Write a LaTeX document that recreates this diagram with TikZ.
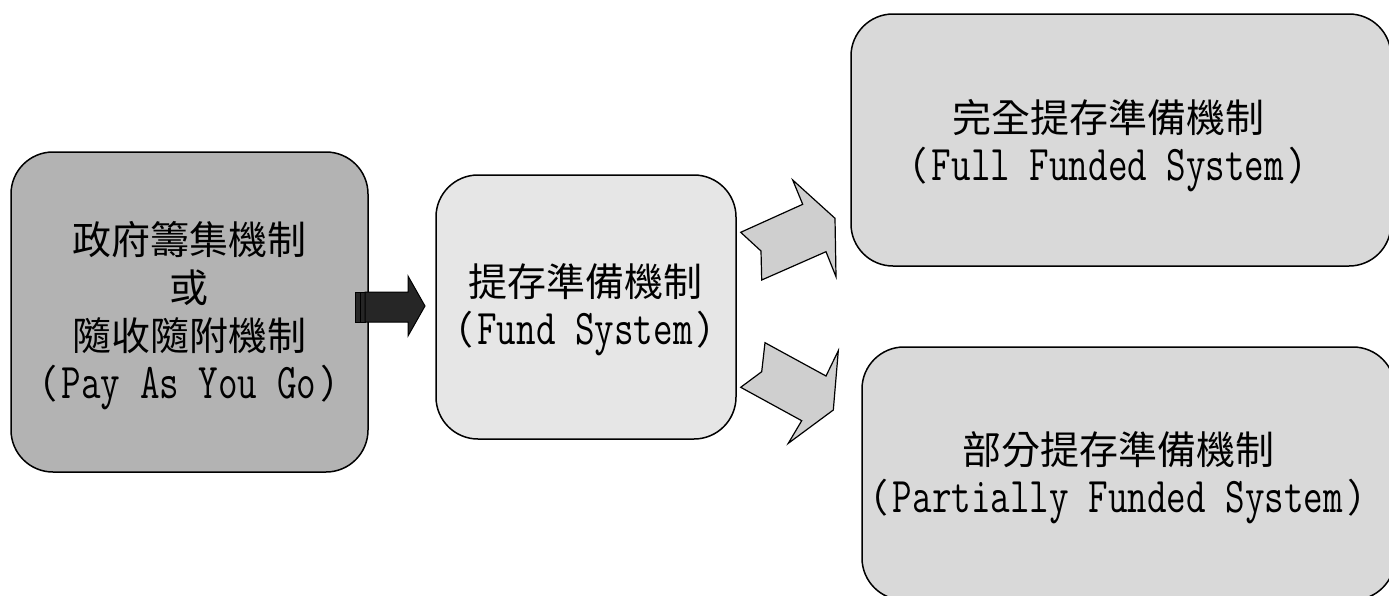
\documentclass[tikz,border=0pt]{standalone}
\usepackage{fontspec}
\setmainfont{Noto Sans CJK TC}
\newfontfamily\lat[FakeStretch=0.76]{Latin Modern Mono}
\newcommand\pl[1]{（\hspace{4pt}{\fontsize{50}{48}\lat #1}\hspace{4pt}）}
\definecolor{boxA}{HTML}{B3B3B3}
\definecolor{boxB}{HTML}{E6E6E6}
\definecolor{boxC}{HTML}{D9D9D9}
\definecolor{arrG}{HTML}{CFCFCF}
\definecolor{arrD}{HTML}{262626}
\tikzset{
  box/.style={draw=black, line width=1.5pt, rounded corners=42pt, inner sep=0pt},
  lbl/.style={align=center, inner sep=0pt, font=\fontsize{39}{48}\selectfont},
  garrow/.style={draw=black, line width=1.2pt, fill=arrG, line join=miter},
  darrow/.style={draw=black, line width=1pt, fill=arrD}
}
\begin{document}
\begin{tikzpicture}[x=1pt,y=-1pt]
\useasboundingbox (0,0) rectangle (1389,595);
\clip (0,0) rectangle (1389,595);
% boxes
\node[box, fill=boxA, minimum width=357pt, minimum height=320pt] (pay) at (189.5,312) {};
\node[box, fill=boxB, minimum width=300pt, minimum height=264pt] (fund) at (586,307) {};
\node[box, fill=boxC, minimum width=540pt, minimum height=252pt] (full) at (1121,140) {};
\node[box, fill=boxC, minimum width=533pt, minimum height=253pt] (part) at (1128.5,473.5) {};
% labels
\node[lbl] (payT) at (189,316) {政府籌集機制\\或\\隨收隨附機制\\\pl{Pay As You Go}};
\node[lbl] (fundT) at (585,310) {提存準備機制\\\pl{Fund System}};
\node[lbl] (fullT) at (1108,146) {完全提存準備機制\\\pl{Full Funded System}};
\node[lbl] (partT) at (1118,478) {部分提存準備機制\\\pl{Partially Funded System}};
% dark arrow
\draw[darrow] (355,292) rectangle (360,322);
\draw[darrow] (360,292) rectangle (365,322);
\draw[darrow] (365,292) -- (408,292) -- (408,276) -- (425,306) -- (408,336) -- (408,322) -- (365,322) -- cycle;
% upper grey arrow
\draw[garrow] (740.7,232.3) -- (761,251) -- (761.7,280) -- (826,251.7) -- (836,276.7) -- (835,218.3) -- (792.7,180) -- (802.7,204.3) -- cycle;
% lower grey arrow
\draw[garrow] (765,342.7) -- (826,376) -- (838.3,350.7) -- (833.3,410) -- (788.3,443.3) -- (801.7,420.7) -- (740.7,387.3) -- (761.7,371.7) -- cycle;
\end{tikzpicture}
\end{document}
